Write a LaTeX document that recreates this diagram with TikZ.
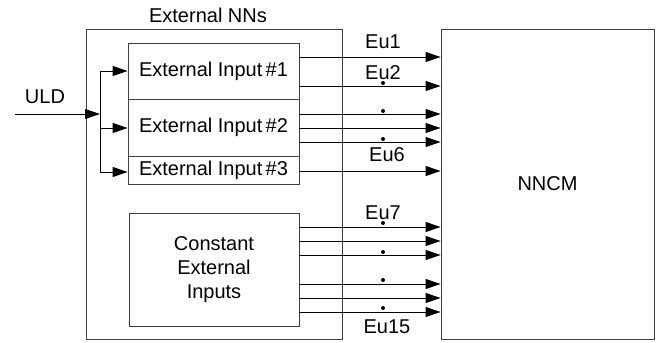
\documentclass[tikz,border=0pt]{standalone}
\usepackage{fontspec}
\setmainfont{Liberation Sans}
\usetikzlibrary{arrows.meta}
\begin{document}
\begin{tikzpicture}[x=1pt,y=-1pt,
  box/.style={draw=black!75,line width=0.9pt,inner sep=0pt,minimum width=#1},
  lbl/.style={font=\fontsize{20}{24}\selectfont,inner sep=0pt},
  arr/.style={line width=0.9pt,-{Triangle[length=15pt,width=10pt]}},
  ln/.style={line width=0.9pt},
  dotmark/.style={circle,fill=black,inner sep=0pt,minimum size=4pt}]
\useasboundingbox (0,0) rectangle (670,343);
\node[box=256pt,minimum height=310pt] (ext) at (214,184) {};
\node[box=213pt,minimum height=310pt,lbl,draw=black!75,line width=0.9pt] (nncm) at (547.5,184) {NNCM};
\node[box=171pt,minimum height=56pt,lbl,draw=black!75,line width=0.9pt] (in1) at (213.5,71) {External Input\,\#1};
\node[box=171pt,minimum height=57pt,lbl,draw=black!75,line width=0.9pt] (in2) at (213.5,127.5) {External Input\,\#2};
\node[box=171pt,minimum height=28pt,lbl,draw=black!75,line width=0.9pt] (in3) at (213.5,170) {External Input\,\#3};
\node[box=170pt,minimum height=113pt,lbl,draw=black!75,line width=0.9pt,align=center] (cst) at (214,269.5) {Constant\\External\\Inputs};
\node[lbl] (title) at (208,15) {External NNs};
\node[lbl] (uld) at (45,97) {ULD};
% ULD input and branches
\coordinate (src) at (15,114);
\coordinate (split) at (100,114);
\coordinate (b1) at (100,71);
\coordinate (b2) at (100,128);
\coordinate (b3) at (100,172);
\draw[arr] (src) -- (split);
\draw[ln] (b1) -- (b3);
\draw[arr] (b1) -- (b1 -| in1.west);
\draw[arr] (b2) -- (b2 -| in2.west);
\draw[arr] (b3) -- (b3 -| in3.west);
% outputs
\foreach \y in {57,86} \draw[arr] (in1.east |- 0,\y) -- (nncm.west |- 0,\y);
\foreach \y in {114,128,142} \draw[arr] (in2.east |- 0,\y) -- (nncm.west |- 0,\y);
\draw[arr] (in3.east |- 0,171) -- (nncm.west |- 0,171);
\foreach \y in {227,241,255,284,298,312} \draw[arr] (cst.east |- 0,\y) -- (nncm.west |- 0,\y);
% labels
\node[lbl] (eu1) at (383,42) {Eu1};
\node[lbl] (eu2) at (383,73) {Eu2};
\node[lbl] (eu6) at (387,155) {Eu6};
\node[lbl] (eu7) at (383,213) {Eu7};
\node[lbl] (eu15) at (387,327) {Eu15};
\foreach \y [count=\i] in {83,111,139,223,252,280,308} \node[dotmark] (d\i) at (383,\y) {};
\end{tikzpicture}
\end{document}
